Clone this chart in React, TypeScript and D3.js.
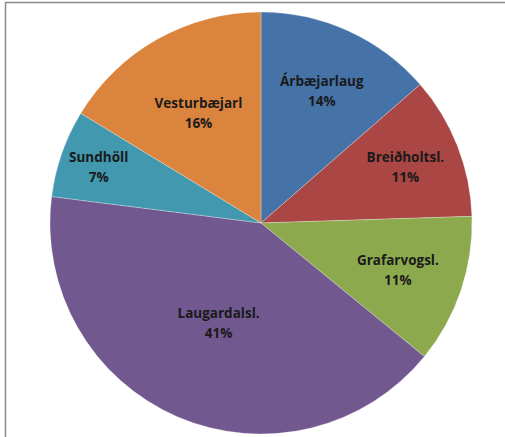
import React from "react";
import * as d3 from "d3";

const categories = ["Árbæjarlaug", "Breiðholtsl.", "Grafarvogsl.", "Laugardalsl.", "Sundhöll", "Vesturbæjarl"];
const values = [13.6, 10.9, 11.4, 41.1, 6.7, 16.3];
const colors = ["#4572A7", "#AA4643", "#8DA94E", "#71588F", "#4198AF", "#DB843D"];
// label placement (fraction of radius) mimicking Excel "best fit"
const labelRadius = [0.695, 0.735, 0.685, 0.51, 0.815, 0.605];

const W = 505;
const H = 437;
const cx = 261;
const cy = 223;
const R = 211;

export default function App() {
  const total = d3.sum(values);
  const pie = d3
    .pie<number>()
    .sort(null)
    .startAngle(0)
    .endAngle(2 * Math.PI)
    .value((d) => d);
  const arcs = pie(values);
  const arc = d3.arc<d3.PieArcDatum<number>>().innerRadius(0).outerRadius(R);
  const fmt = (v: number) => `${Math.round((v / total) * 100)}%`;

  return (
    <svg
      width={W}
      height={H}
      style={{ position: "absolute", left: 0, top: 0, background: "#fff" }}
    >
      <rect x={5.5} y={2.5} width={W + 20} height={H + 20} fill="#fff" stroke="#8a8a8a" strokeWidth={1.5} />
      <g transform={`translate(${cx},${cy})`}>
        {arcs.map((a, i) => (
          <path key={i} d={arc(a) || ""} fill={colors[i]} stroke="#ffffff" strokeOpacity={0.35} strokeWidth={0.8} />
        ))}
        {arcs.map((a, i) => {
          const mid = (a.startAngle + a.endAngle) / 2;
          const r = R * labelRadius[i];
          const x = Math.sin(mid) * r;
          const y = -Math.cos(mid) * r;
          return (
            <text
              key={"t" + i}
              x={x}
              y={y}
              textAnchor="middle"
              fontFamily="'Open Sans', Lato, sans-serif"
              fontWeight="bold"
              fontSize={13.5}
              fill="#1a1a1a"
            >
              <tspan x={x} dy={-4}>{categories[i]}</tspan>
              <tspan x={x} dy={20}>{fmt(values[i])}</tspan>
            </text>
          );
        })}
      </g>
    </svg>
  );
}
